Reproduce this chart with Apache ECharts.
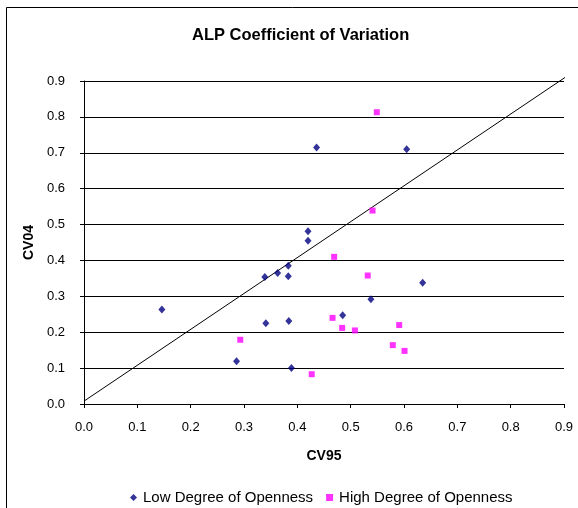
<!DOCTYPE html>
<html><head><meta charset="utf-8">
<script src="https://cdn.jsdelivr.net/npm/echarts@6/dist/echarts.min.js"></script>
<style>html,body{margin:0;padding:0;background:#fff}#c{width:578px;height:508px}</style>
</head><body><div id="c"></div>
<script>
const lowName = 'Low Degree of Openness';
const highName = 'High Degree of Openness';
const lowX = [0.436, 0.420, 0.420, 0.605, 0.383, 0.363, 0.339, 0.383, 0.146, 0.341, 0.384, 0.286, 0.389, 0.635, 0.538, 0.485];
const lowY = [0.715, 0.481, 0.455, 0.710, 0.385, 0.365, 0.354, 0.356, 0.263, 0.225, 0.231, 0.119, 0.100, 0.338, 0.292, 0.247];
const highX = [0.549, 0.541, 0.293, 0.427, 0.469, 0.532, 0.466, 0.484, 0.508, 0.591, 0.579, 0.601];
const highY = [0.813, 0.539, 0.179, 0.083, 0.410, 0.358, 0.240, 0.212, 0.205, 0.220, 0.164, 0.148];
const diagX = [0, 0.915];
const diagY = [0.008, 0.923];
const zip = (a, b) => a.map((v, i) => [v, b[i]]);
const font = 'Liberation Sans, Arial, sans-serif';
const chart = echarts.init(document.getElementById('c'), null, {renderer: 'canvas'});
chart.setOption({
  animation: false,
  backgroundColor: '#fff',
  graphic: [{type: 'rect', shape: {x: 6.5, y: 7.5, width: 620, height: 600}, style: {fill: null, stroke: '#000', lineWidth: 1}, silent: true}],
  title: {text: 'ALP Coefficient of Variation', left: 187, top: 22, textStyle: {fontFamily: font, fontSize: 16.5, fontWeight: 'bold', color: '#000'}},
  grid: {left: 84, right: 14, top: 81, bottom: 104, containLabel: false},
  xAxis: {type: 'value', min: 0, max: 0.9, interval: 0.1, name: 'CV95', nameLocation: 'middle', nameGap: 45,
    nameTextStyle: {fontFamily: font, fontSize: 14, fontWeight: 'bold', color: '#000'},
    axisLine: {show: true, lineStyle: {color: '#000', width: 1}},
    axisTick: {show: true, inside: false, length: 4, lineStyle: {color: '#000'}},
    axisLabel: {fontFamily: font, fontSize: 13, color: '#000', margin: 17, formatter: v => v.toFixed(1)},
    splitLine: {show: false}},
  yAxis: {type: 'value', min: 0, max: 0.9, interval: 0.1, name: 'CV04', nameLocation: 'middle', nameGap: 38,
    nameTextStyle: {fontFamily: font, fontSize: 14, fontWeight: 'bold', color: '#000'},
    axisLine: {show: true, lineStyle: {color: '#000', width: 1}},
    axisTick: {show: true, inside: false, length: 4, lineStyle: {color: '#000'}},
    axisLabel: {fontFamily: font, fontSize: 13, color: '#000', margin: 19, formatter: v => v.toFixed(1)},
    splitLine: {show: true, lineStyle: {color: '#000', width: 1}}},
  legend: {data: [{name: lowName, icon: 'diamond'}, {name: highName, icon: 'rect'}], top: 485, left: 125, itemWidth: 7, itemHeight: 7, itemGap: 13,
    textStyle: {fontFamily: font, fontSize: 15, color: '#000', padding: [0, 0, 0, 1]}},
  series: [
    {type: 'line', name: 'diag', data: zip(diagX, diagY), symbol: 'none', clip: false, silent: true,
      lineStyle: {color: '#000', width: 1}, z: 1},
    {type: 'scatter', name: lowName, data: zip(lowX, lowY), symbol: 'diamond', symbolSize: [7, 8],
      itemStyle: {color: '#000080'}, z: 3},
    {type: 'scatter', name: highName, data: zip(highX, highY), symbol: 'rect', symbolSize: 6,
      itemStyle: {color: '#ff00ff'}, z: 3}
  ]
});
</script></body></html>
